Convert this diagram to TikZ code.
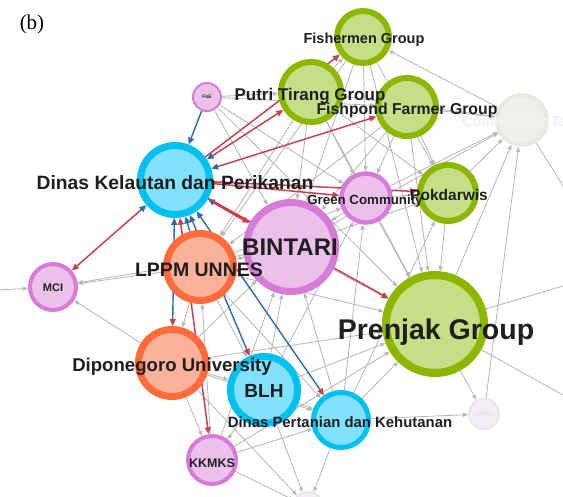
\documentclass[tikz,border=0pt]{standalone}
\usepackage{fontspec}
\setmainfont{Liberation Sans}
\newfontfamily\panelfont{Liberation Serif}
\usetikzlibrary{arrows.meta, backgrounds}
\definecolor{cgreen}{HTML}{8DB600}
\definecolor{cgreenf}{HTML}{C6DE85}
\definecolor{cblue}{HTML}{00C0F0}
\definecolor{cbluef}{HTML}{82E1FF}
\definecolor{cpink}{HTML}{D67CD8}
\definecolor{cpinkf}{HTML}{EBC1EB}
\definecolor{corange}{HTML}{FF6B3A}
\definecolor{corangef}{HTML}{FBB19A}
\definecolor{cfaint}{HTML}{E8EAE2}
\definecolor{cfaintf}{HTML}{EFF0E9}
\definecolor{cfaintp}{HTML}{ECE4EC}
\definecolor{cfaintpf}{HTML}{F3EEF3}
\definecolor{cred}{HTML}{C8414F}
\definecolor{cnavy}{HTML}{2E6BA6}
\definecolor{cgrey}{HTML}{B4B4B4}
\newcommand{\lblsize}[1]{\fontsize{#1}{#1}\selectfont}
\tikzset{
  actor/.style 2 args={circle, draw=#1, fill=#2, inner sep=0pt},
  greenactor/.style={actor={cgreen}{cgreenf}},
  blueactor/.style={actor={cblue}{cbluef}},
  pinkactor/.style={actor={cpink}{cpinkf}},
  orangeactor/.style={actor={corange}{corangef}},
  faintactor/.style={actor={cfaint}{cfaintf}},
  faintpactor/.style={actor={cfaintp}{cfaintpf}},
  lbl/.style={font=\bfseries\lblsize{#1}, text=black!88, inner sep=0pt},
  Rh/.tip={Triangle[length=7pt, width=6pt, color=cred]},
  Bh/.tip={Triangle[length=7pt, width=6pt, color=cnavy]},
  Gh/.tip={Triangle[length=5pt, width=4pt, color=black!28]},
  redtie/.style={draw=cred, line width=1.5pt},
  bluetie/.style={draw=cnavy, line width=1.4pt},
  greytie/.style={draw=cgrey, line width=0.8pt, -Gh},
}

\begin{document}
\begin{tikzpicture}[x=1pt, y=-1pt]
  \useasboundingbox (0,0) rectangle (563,497);
  \node[font=\panelfont\lblsize{21}, inner sep=0pt] (panel) at (32,24) {(b)};

  % actors
  \node[greenactor, minimum size=52pt, line width=6pt] (fish) at (363,37) {};
  \node[greenactor, minimum size=60pt, line width=6pt] (putri) at (311,92) {};
  \node[greenactor, minimum size=58pt, line width=6pt] (fpond) at (407,107) {};
  \node[faintactor, minimum size=50pt, line width=4pt] (comm) at (522,120) {};
  \node[pinkactor, minimum size=49pt, line width=4.5pt] (green) at (366,198) {};
  \node[greenactor, minimum size=56pt, line width=6pt] (pokd) at (448,193) {};
  \node[blueactor, minimum size=69pt, line width=7pt] (dkp) at (175,180) {};
  \node[pinkactor, minimum size=28pt, line width=2pt] (foe) at (207,97) {};
  \node[pinkactor, minimum size=89pt, line width=7pt] (bint) at (291,247) {};
  \node[orangeactor, minimum size=67pt, line width=7pt] (lppm) at (200,267) {};
  \node[pinkactor, minimum size=46pt, line width=4pt] (mci) at (53,287) {};
  \node[orangeactor, minimum size=67pt, line width=7pt] (undip) at (172,363) {};
  \node[blueactor, minimum size=67pt, line width=7pt] (blh) at (264,390) {};
  \node[blueactor, minimum size=55pt, line width=5pt] (dpk) at (341,420) {};
  \node[pinkactor, minimum size=48pt, line width=4pt] (kkmks) at (212,460) {};
  \node[greenactor, minimum size=98pt, line width=8pt] (prenjak) at (435,324) {};
  \node[faintpactor, minimum size=30pt, line width=2pt] (kiara) at (484,414) {};
  \node[faintpactor, minimum size=30pt, line width=2pt] (bot) at (308,507) {};
  \coordinate (offL) at (-20,291);
  \coordinate (offR1) at (590,278);
  \coordinate (offR2) at (590,410);
  \coordinate (offBR) at (575,205);

  \begin{scope}[on background layer]
    \foreach \a/\b in {foe/putri, foe/bint, foe/green, foe/prenjak, foe/fpond,
                       putri/fish, putri/green, putri/bint, putri/prenjak, putri/lppm, putri/pokd, putri/comm,
                       fish/bint, fish/green, fish/pokd, fish/prenjak, comm/fish, fish/lppm,
                       fpond/green, fpond/bint, fpond/prenjak, fpond/pokd, fpond/comm, fpond/lppm,
                       green/pokd, green/comm, green/bint, green/prenjak, lppm/green, blh/green, dpk/green,
                       pokd/comm, pokd/prenjak, bint/pokd, dpk/pokd,
                       prenjak/comm, bint/comm, kiara/comm, comm/offBR,
                       bint/prenjak, lppm/bint, blh/bint, dpk/bint, undip/bint, kkmks/bint, bint/mci,
                       lppm/mci, lppm/undip, lppm/blh, lppm/dpk, lppm/prenjak, kkmks/lppm,
                       undip/mci, offL/mci,
                       undip/blh, undip/dpk, undip/kkmks, undip/prenjak, undip/bot,
                       blh/dpk, blh/kkmks, blh/prenjak, blh/bot,
                       dpk/kiara, dpk/prenjak, kkmks/dpk, dpk/bot,
                       prenjak/kiara, prenjak/offR1, prenjak/offR2, kkmks/bot, kkmks/prenjak}
      \draw[greytie] (\a) -- (\b);
    % ties of Dinas Kelautan dan Perikanan
    \draw[redtie, Bh-Rh] (dkp) -- (putri);
    \draw[redtie, -Rh] (dkp) -- (fish);
    \draw[redtie, Bh-Rh] (dkp) -- (fpond);
    \draw[redtie, -Rh] (dkp) -- (green);
    \draw[redtie, -Rh] (dkp) -- (pokd);
    \draw[redtie, line width=2.4pt, Bh-Rh] (dkp) -- (bint);
    \draw[redtie, -Rh] (dkp) -- (prenjak);
    \draw[redtie, Bh-Rh] (dkp) -- (mci);
    \draw[redtie, Rh-Rh] (dkp) -- (kkmks);
    \draw[bluetie, -Bh] (foe) -- (dkp);
    \draw[bluetie, -Bh] (lppm) -- (dkp);
    \draw[bluetie, Bh-Rh] (dkp) -- (undip);
    \draw[bluetie, Bh-Rh] (dkp) -- (blh);
    \draw[bluetie, Bh-Rh] (dkp) -- (dpk);
  \end{scope}

  % labels
  \node[lbl=14.5] (fish-l) at (364,40) {Fishermen Group};
  \node[lbl=17] (putri-l) at (310,96) {Putri Tirang Group};
  \node[lbl=15.8] (fpond-l) at (407,110) {Fishpond Farmer Group};
  \node[lbl=14.5, text=cfaint!90!black!30, anchor=west] (comm-l) at (462,123) {Community (Ta};
  \node[lbl=13.3] (green-l) at (365,201) {Green Community};
  \node[lbl=15.5] (pokd-l) at (449,195) {Pokdarwis};
  \node[lbl=19.3] (dkp-l) at (175,183) {Dinas Kelautan dan Perikanan};
  \node[lbl=5] (foe-l) at (207,97) {FoE};
  \node[lbl=24] (bint-l) at (290,247) {BINTARI};
  \node[lbl=19.5] (lppm-l) at (199,270) {LPPM UNNES};
  \node[lbl=11] (mci-l) at (53,288) {MCI};
  \node[lbl=18.6] (undip-l) at (172,367) {Diponegoro University};
  \node[lbl=19] (blh-l) at (264,391) {BLH};
  \node[lbl=14.9] (dpk-l) at (340,422) {Dinas Pertanian dan Kehutanan};
  \node[lbl=12.5] (kkmks-l) at (212,463) {KKMKS};
  \node[lbl=28.5] (prenjak-l) at (436,332) {Prenjak Group};
  \node[lbl=5, text=black!12] (kiara-l) at (484,414) {KIARA};
\end{tikzpicture}
\end{document}
